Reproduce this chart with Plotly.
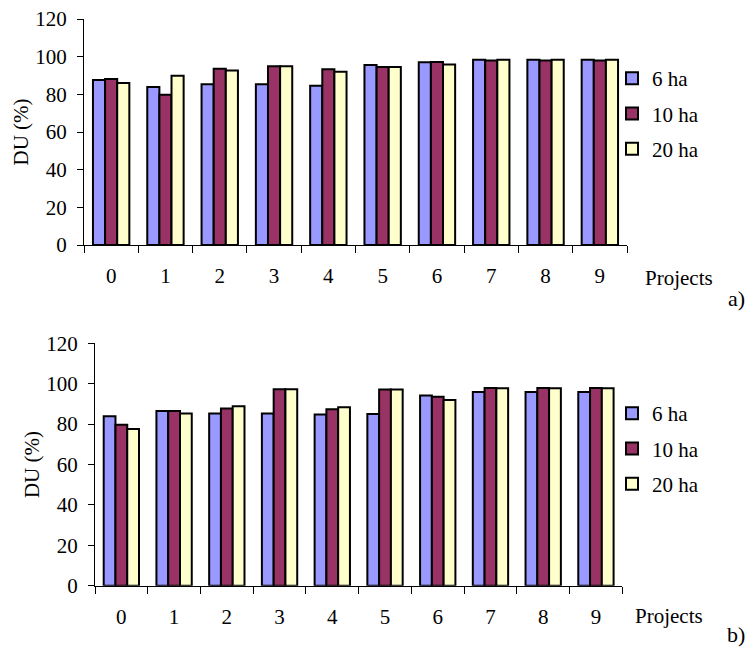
import plotly.graph_objects as go

projects = ["0", "1", "2", "3", "4", "5", "6", "7", "8", "9"]
series_names = ["6 ha", "10 ha", "20 ha"]
colors = ["#9999FF", "#993366", "#FFFFCC"]

# panel a)
a_6ha = [87.6, 83.9, 85.3, 85.3, 84.6, 95.6, 97.0, 98.4, 98.4, 98.4]
a_10ha = [88.1, 79.8, 93.6, 94.9, 93.3, 94.5, 97.2, 97.9, 97.9, 97.9]
a_20ha = [86.0, 89.9, 92.6, 94.9, 92.0, 94.5, 95.9, 98.4, 98.4, 98.4]

# panel b)
b_6ha = [83.9, 86.5, 85.2, 85.3, 84.7, 85.0, 94.1, 95.9, 95.9, 95.9]
b_10ha = [79.7, 86.5, 87.7, 97.2, 87.3, 97.1, 93.6, 97.9, 97.9, 97.9]
b_20ha = [77.6, 85.3, 88.8, 97.2, 88.3, 97.1, 91.9, 97.7, 97.7, 97.7]

y_ticks = [0, 20, 40, 60, 80, 100, 120]

FONT = "Liberation Serif, Times New Roman, serif"
FS = 21
W, H = 748, 653

fig = go.Figure()

for name, col, vals in zip(series_names, colors, [a_6ha, a_10ha, a_20ha]):
    fig.add_trace(go.Bar(x=projects, y=vals, name=name, marker_color=col,
                         marker_line=dict(color="black", width=2),
                         xaxis="x", yaxis="y", legend="legend",
                         legendgroup="a" + name))
for name, col, vals in zip(series_names, colors, [b_6ha, b_10ha, b_20ha]):
    fig.add_trace(go.Bar(x=projects, y=vals, name=name, marker_color=col,
                         marker_line=dict(color="black", width=2),
                         xaxis="x2", yaxis="y2", legend="legend2",
                         legendgroup="b" + name))

def xax(l, r):
    return dict(domain=[l / W, r / W], type="category", showline=True,
                linecolor="black", linewidth=1, ticks="outside", ticklen=7,
                tickcolor="black", tickson="boundaries", showgrid=False,
                zeroline=False, ticklabelstandoff=12, automargin=False,
                tickfont=dict(family=FONT, size=FS, color="black"))

def yax(bottom_px, top_px, anchor):
    return dict(domain=[(H - bottom_px) / H, (H - top_px) / H], range=[0, 120],
                tickvals=y_ticks, showline=True, linecolor="black",
                linewidth=1, ticks="outside", ticklen=6, tickcolor="black",
                showgrid=False, zeroline=False, anchor=anchor,
                ticklabelstandoff=6, automargin=False,
                tickfont=dict(family=FONT, size=FS, color="black"),
                title=dict(text="DU (%)", font=dict(family=FONT, size=FS, color="black"),
                           standoff=0))

fig.update_layout(
    width=W, height=H,
    margin=dict(l=0, r=0, t=0, b=0, autoexpand=False),
    paper_bgcolor="white", plot_bgcolor="white",
    barmode="group", bargap=0.33, bargroupgap=0,
    font=dict(family=FONT, size=FS, color="black"),
    xaxis=dict(**xax(84, 627), anchor="y"),
    yaxis=yax(245, 19, "x"),
    xaxis2=dict(**xax(95, 622.3), anchor="y2"),
    yaxis2=yax(585.7, 343.3, "x2"),
    legend=dict(x=612 / W, y=(H - 58) / H, xanchor="left", yanchor="top",
                traceorder="grouped", tracegroupgap=5, itemwidth=30,
                bgcolor="rgba(0,0,0,0)",
                font=dict(family=FONT, size=FS, color="black")),
    legend2=dict(x=612 / W, y=(H - 393) / H, xanchor="left", yanchor="top",
                 traceorder="grouped", tracegroupgap=5, itemwidth=30,
                 bgcolor="rgba(0,0,0,0)",
                 font=dict(family=FONT, size=FS, color="black")),
    annotations=[
        dict(text="Projects", x=643 / W, y=(H - 278) / H, xref="paper", yref="paper",
             xanchor="left", yanchor="middle", showarrow=False,
             font=dict(family=FONT, size=FS, color="black")),
        dict(text="a)", x=747 / W, y=(H - 299) / H, xref="paper", yref="paper",
             xanchor="right", yanchor="middle", showarrow=False,
             font=dict(family=FONT, size=22, color="black")),
        dict(text="Projects", x=633 / W, y=(H - 616) / H, xref="paper", yref="paper",
             xanchor="left", yanchor="middle", showarrow=False,
             font=dict(family=FONT, size=FS, color="black")),
        dict(text="b)", x=747 / W, y=(H - 634) / H, xref="paper", yref="paper",
             xanchor="right", yanchor="middle", showarrow=False,
             font=dict(family=FONT, size=22, color="black")),
    ],
)

fig.write_html("out.html", config={"displayModeBar": False},
               post_script="document.body.style.margin='0';document.body.style.overflow='hidden';")
